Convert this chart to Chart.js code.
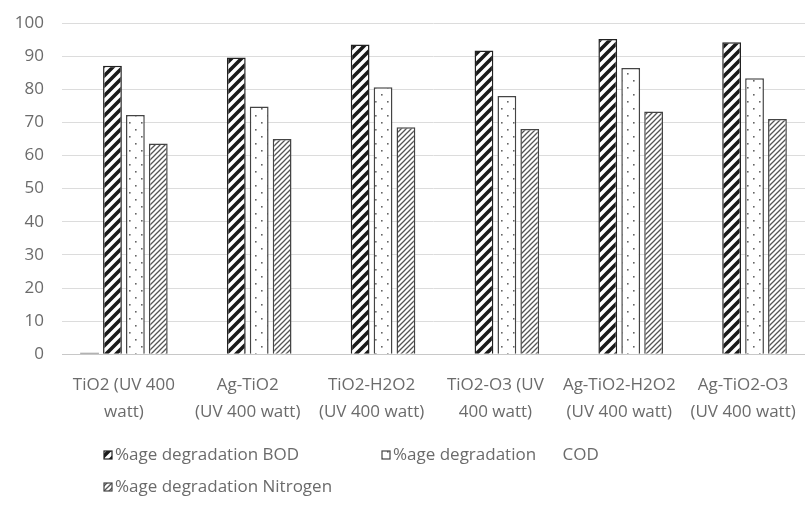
<!DOCTYPE html>
<html>
<head>
<meta charset="utf-8">
<script src="https://cdn.jsdelivr.net/npm/chart.js@4"></script>
<style>
  html, body { margin: 0; padding: 0; background: #fff; }
  #wrap { width: 805px; height: 506px; }
</style>
</head>
<body>
<div id="wrap"><canvas id="chartDegradation" width="805" height="506"></canvas></div>
<script>
// values
var categories = [
    ['TiO2 (UV 400', 'watt)'],
    ['Ag-TiO2', '(UV 400 watt)'],
    ['TiO2-H2O2', '(UV 400 watt)'],
    ['TiO2-O3 (UV', '400 watt)'],
    ['Ag-TiO2-H2O2', '(UV 400 watt)'],
    ['Ag-TiO2-O3', '(UV 400 watt)']
];
var blankValues = [0.5, 0, 0, 0, 0, 0]; // the little stub in front of the first group
var bodValues = [87.1, 89.6, 93.5, 91.7, 95.2, 94.2];
var codValues = [72.2, 74.8, 80.6, 78.0, 86.4, 83.3];
var nitrogenValues = [63.6, 65.0, 68.5, 68.0, 73.3, 71.0];
var yTicks = [0, 10, 20, 30, 40, 50, 60, 70, 80, 90, 100];
var legendLabels = ['%age degradation BOD', '%age degradation      COD', '%age degradation Nitrogen'];

var FONT = "'Open Sans', sans-serif";
var TEXT = '#6b6b6b';

// hatch patterns like the excel fills
function stripes(size, width, color) {
    var c = document.createElement('canvas');
    c.width = size; c.height = size;
    var g = c.getContext('2d');
    g.fillStyle = '#fff';
    g.fillRect(0, 0, size, size);
    g.strokeStyle = color;
    g.lineWidth = width;
    g.beginPath();
    g.moveTo(-size, 2 * size); g.lineTo(2 * size, -size);
    g.moveTo(-size, size); g.lineTo(size, -size);
    g.moveTo(0, 2 * size); g.lineTo(2 * size, 0);
    g.stroke();
    return g.createPattern(c, 'repeat');
}
function dots() {
    var c = document.createElement('canvas');
    c.width = 12; c.height = 14;
    var g = c.getContext('2d');
    g.fillStyle = '#fff';
    g.fillRect(0, 0, 12, 14);
    g.fillStyle = '#666';
    g.fillRect(3, 3, 1.6, 1.6);
    g.fillRect(9, 10, 1.6, 1.6);
    return g.createPattern(c, 'repeat');
}

var ctx = document.getElementById('chartDegradation').getContext('2d');
var bodFill = stripes(10, 3.6, '#1a1a1a');
var codFill = dots();
var nitFill = stripes(5, 1.3, '#555');

var legendFills = [bodFill, codFill, nitFill];
var legendBorders = ['#222', '#444', '#444'];
var legendPos = [[104, 455], [382, 455], [104, 487]];

var legendPlugin = {
    id: 'excelLegend',
    afterDraw: function (chart) {
        var g = chart.ctx;
        g.save();
        g.font = '17px ' + FONT;
        g.textBaseline = 'middle';
        for (var i = 0; i < legendLabels.length; i++) {
            var x = legendPos[i][0], y = legendPos[i][1];
            g.fillStyle = legendFills[i];
            g.fillRect(x, y - 4, 8, 8);
            g.strokeStyle = legendBorders[i];
            g.lineWidth = 1.2;
            g.strokeRect(x, y - 4, 8, 8);
            g.fillStyle = TEXT;
            g.fillText(legendLabels[i], x + 11, y);
        }
        g.restore();
    }
};

var chart = new Chart(ctx, {
    type: 'bar',
    data: {
        labels: categories,
        datasets: [{
            label: 'blank',
            data: blankValues,
            backgroundColor: '#999',
            borderWidth: 0
        }, {
            label: legendLabels[0],
            data: bodValues,
            backgroundColor: bodFill,
            borderColor: '#222',
            borderWidth: 1.5
        }, {
            label: legendLabels[1],
            data: codValues,
            backgroundColor: codFill,
            borderColor: '#444',
            borderWidth: 1.5
        }, {
            label: legendLabels[2],
            data: nitrogenValues,
            backgroundColor: nitFill,
            borderColor: '#444',
            borderWidth: 1.5
        }]
    },
    options: {
        responsive: false,
        animation: false,
        layout: { padding: { left: 12, right: -6, top: 23, bottom: 63 } },
        datasets: { bar: { categoryPercentage: 0.74, barPercentage: 0.82 } },
        plugins: {
            legend: { display: false },
            tooltip: { enabled: false }
        },
        scales: {
            x: {
                afterFit: function (axis) { axis.paddingLeft = 0; axis.paddingRight = 0; },
                grid: { display: false, drawTicks: false },
                border: { display: true, color: '#c8c8c8', width: 1 },
                ticks: {
                    color: TEXT,
                    font: { family: FONT, size: 17, lineHeight: 1.55 },
                    padding: 18,
                    maxRotation: 0,
                    autoSkip: false
                }
            },
            y: {
                min: 0,
                max: 100,
                afterBuildTicks: function (axis) {
                    axis.ticks = yTicks.map(function (v) { return { value: v }; });
                },
                afterFit: function (axis) {
                    axis.width = 50;
                    axis.paddingTop = 0;
                    axis.paddingBottom = 0;
                },
                grid: { color: '#dcdcdc', lineWidth: 1, drawTicks: false },
                border: { display: false },
                ticks: {
                    color: TEXT,
                    font: { family: FONT, size: 17 },
                    padding: 18
                }
            }
        }
    },
    plugins: [legendPlugin]
});
</script>
</body>
</html>
